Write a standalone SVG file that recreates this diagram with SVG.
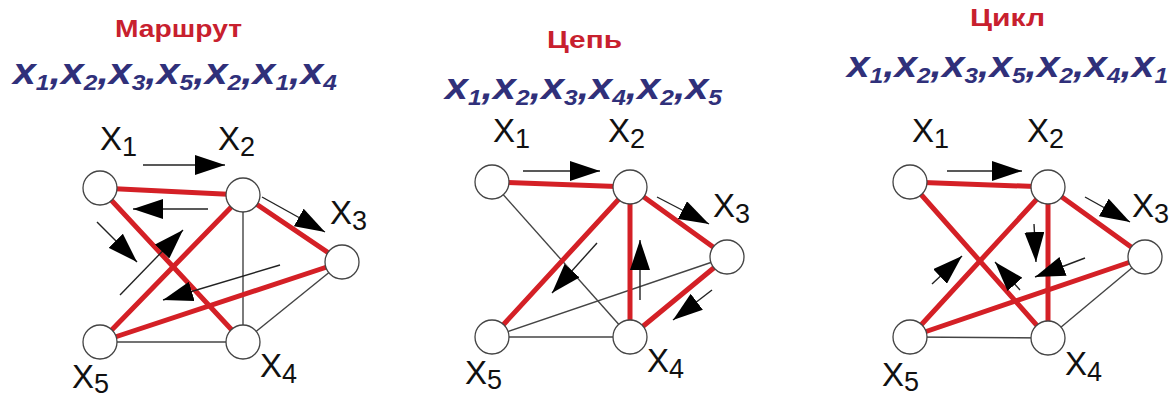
<svg xmlns="http://www.w3.org/2000/svg" width="1173" height="399" viewBox="0 0 1173 399">
<defs>
<style>
.title{font-family:"Liberation Sans",Arial,sans-serif;font-weight:bold;font-size:23px;fill:#c8202e}
.seq{font-family:"Liberation Sans",Arial,sans-serif;font-weight:bold;font-style:italic;font-size:37px;fill:#30307a}
.seq .s{font-size:22px}
.lbl{font-family:"Liberation Sans",Arial,sans-serif;font-size:33px;fill:#111}
.lbl .s{font-size:27px}
.red{stroke:#d42026;stroke-width:5;fill:none;stroke-linecap:round}
.thin{stroke:#444;stroke-width:1.4;fill:none}
.arr{stroke:#222;stroke-width:1.4;fill:none;marker-end:url(#ah)}
.node{fill:#fff;stroke:#444;stroke-width:1.3}
</style>
<marker id="ah" viewBox="0 0 30 20" markerUnits="userSpaceOnUse" markerWidth="30" markerHeight="20" refX="30" refY="10" orient="auto">
<path d="M0,0 L30,10 L0,20 z" fill="#000"/>
</marker>
</defs>
<rect width="1173" height="399" fill="#fff"/>

<g id="titles">
<text class="title" x="115" y="37" textLength="127" lengthAdjust="spacingAndGlyphs">Маршрут</text>
<text class="title" x="547" y="48" textLength="75" lengthAdjust="spacingAndGlyphs">Цепь</text>
<text class="title" x="970" y="26" textLength="75" lengthAdjust="spacingAndGlyphs">Цикл</text>
<text class="seq" x="13" y="84" textLength="324" lengthAdjust="spacingAndGlyphs">x<tspan class="s" dy="6">1</tspan><tspan dy="-6">,x</tspan><tspan class="s" dy="6">2</tspan><tspan dy="-6">,x</tspan><tspan class="s" dy="6">3</tspan><tspan dy="-6">,x</tspan><tspan class="s" dy="6">5</tspan><tspan dy="-6">,x</tspan><tspan class="s" dy="6">2</tspan><tspan dy="-6">,x</tspan><tspan class="s" dy="6">1</tspan><tspan dy="-6">,x</tspan><tspan class="s" dy="6">4</tspan></text>
<text class="seq" x="445" y="99" textLength="277" lengthAdjust="spacingAndGlyphs">x<tspan class="s" dy="6">1</tspan><tspan dy="-6">,x</tspan><tspan class="s" dy="6">2</tspan><tspan dy="-6">,x</tspan><tspan class="s" dy="6">3</tspan><tspan dy="-6">,x</tspan><tspan class="s" dy="6">4</tspan><tspan dy="-6">,x</tspan><tspan class="s" dy="6">2</tspan><tspan dy="-6">,x</tspan><tspan class="s" dy="6">5</tspan></text>
<text class="seq" x="847" y="77" textLength="321" lengthAdjust="spacingAndGlyphs">x<tspan class="s" dy="6">1</tspan><tspan dy="-6">,x</tspan><tspan class="s" dy="6">2</tspan><tspan dy="-6">,x</tspan><tspan class="s" dy="6">3</tspan><tspan dy="-6">,x</tspan><tspan class="s" dy="6">5</tspan><tspan dy="-6">,x</tspan><tspan class="s" dy="6">2</tspan><tspan dy="-6">,x</tspan><tspan class="s" dy="6">4</tspan><tspan dy="-6">,x</tspan><tspan class="s" dy="6">1</tspan></text>
</g>

<g id="connectors">
<!-- Panel 1 -->
<line class="thin" x1="243" y1="195" x2="243" y2="342"/>
<line class="thin" x1="342" y1="262" x2="243" y2="342"/>
<line class="thin" x1="100" y1="342" x2="243" y2="342"/>
<line class="red" x1="100" y1="188" x2="243" y2="195"/>
<line class="red" x1="243" y1="195" x2="342" y2="262"/>
<line class="red" x1="342" y1="262" x2="100" y2="342"/>
<line class="red" x1="100" y1="342" x2="243" y2="195"/>
<line class="red" x1="100" y1="188" x2="243" y2="342"/>
<line class="arr" x1="143" y1="165" x2="225" y2="165"/>
<line class="arr" x1="208" y1="209" x2="133" y2="209"/>
<line class="arr" x1="262" y1="197" x2="325" y2="232"/>
<line class="arr" x1="280" y1="265" x2="163" y2="300"/>
<line class="arr" x1="120" y1="295" x2="183" y2="230"/>
<line class="arr" x1="97" y1="222" x2="137" y2="262"/>
<!-- Panel 2 -->
<line class="thin" x1="492" y1="182" x2="630" y2="337"/>
<line class="thin" x1="492" y1="337" x2="727" y2="257"/>
<line class="thin" x1="492" y1="337" x2="630" y2="337"/>
<line class="red" x1="492" y1="182" x2="630" y2="187"/>
<line class="red" x1="630" y1="187" x2="727" y2="257"/>
<line class="red" x1="727" y1="257" x2="630" y2="337"/>
<line class="red" x1="630" y1="337" x2="630" y2="187"/>
<line class="red" x1="630" y1="187" x2="492" y2="337"/>
<line class="arr" x1="523" y1="171" x2="600" y2="171"/>
<line class="arr" x1="657" y1="197" x2="709" y2="224"/>
<line class="arr" x1="712" y1="290" x2="673" y2="320"/>
<line class="arr" x1="640" y1="300" x2="640" y2="240"/>
<line class="arr" x1="597" y1="243" x2="552" y2="293"/>
<!-- Panel 3 -->
<line class="thin" x1="1145" y1="257" x2="1048" y2="338"/>
<line class="thin" x1="910" y1="337" x2="1048" y2="338"/>
<line class="red" x1="910" y1="182" x2="1048" y2="187"/>
<line class="red" x1="1048" y1="187" x2="1145" y2="257"/>
<line class="red" x1="1145" y1="257" x2="910" y2="337"/>
<line class="red" x1="910" y1="337" x2="1048" y2="187"/>
<line class="red" x1="1048" y1="187" x2="1048" y2="338"/>
<line class="red" x1="1048" y1="338" x2="910" y2="182"/>
<line class="arr" x1="947" y1="171" x2="1022" y2="171"/>
<line class="arr" x1="1085" y1="197" x2="1130" y2="222"/>
<line class="arr" x1="1085" y1="258" x2="1035" y2="277"/>
<line class="arr" x1="932" y1="284" x2="962" y2="256"/>
<line class="arr" x1="1034" y1="224" x2="1036" y2="262"/>
<line class="arr" x1="1020" y1="290" x2="995" y2="262"/>
</g>

<g id="p1-x1"><circle class="node" cx="100" cy="188" r="17"/><text class="lbl" x="100" y="150">X<tspan class="s" dy="6">1</tspan></text></g>
<g id="p1-x2"><circle class="node" cx="243" cy="195" r="17"/><text class="lbl" x="218" y="150">X<tspan class="s" dy="6">2</tspan></text></g>
<g id="p1-x3"><circle class="node" cx="342" cy="262" r="17"/><text class="lbl" x="330" y="224">X<tspan class="s" dy="6">3</tspan></text></g>
<g id="p1-x4"><circle class="node" cx="243" cy="342" r="17"/><text class="lbl" x="260" y="377">X<tspan class="s" dy="6">4</tspan></text></g>
<g id="p1-x5"><circle class="node" cx="100" cy="342" r="17"/><text class="lbl" x="72" y="388">X<tspan class="s" dy="5">5</tspan></text></g>

<g id="p2-x1"><circle class="node" cx="492" cy="182" r="17"/><text class="lbl" x="493" y="142">X<tspan class="s" dy="6">1</tspan></text></g>
<g id="p2-x2"><circle class="node" cx="630" cy="187" r="17"/><text class="lbl" x="608" y="142">X<tspan class="s" dy="6">2</tspan></text></g>
<g id="p2-x3"><circle class="node" cx="727" cy="257" r="17"/><text class="lbl" x="713" y="217">X<tspan class="s" dy="6">3</tspan></text></g>
<g id="p2-x4"><circle class="node" cx="630" cy="337" r="17"/><text class="lbl" x="647" y="372">X<tspan class="s" dy="6">4</tspan></text></g>
<g id="p2-x5"><circle class="node" cx="492" cy="337" r="17"/><text class="lbl" x="465" y="384">X<tspan class="s" dy="5">5</tspan></text></g>

<g id="p3-x1"><circle class="node" cx="910" cy="182" r="17"/><text class="lbl" x="912" y="142">X<tspan class="s" dy="6">1</tspan></text></g>
<g id="p3-x2"><circle class="node" cx="1048" cy="187" r="17"/><text class="lbl" x="1027" y="142">X<tspan class="s" dy="6">2</tspan></text></g>
<g id="p3-x3"><circle class="node" cx="1145" cy="257" r="17"/><text class="lbl" x="1132" y="217">X<tspan class="s" dy="6">3</tspan></text></g>
<g id="p3-x4"><circle class="node" cx="1048" cy="338" r="17"/><text class="lbl" x="1065" y="375">X<tspan class="s" dy="6">4</tspan></text></g>
<g id="p3-x5"><circle class="node" cx="910" cy="337" r="17"/><text class="lbl" x="882" y="386">X<tspan class="s" dy="5">5</tspan></text></g>
</svg>
